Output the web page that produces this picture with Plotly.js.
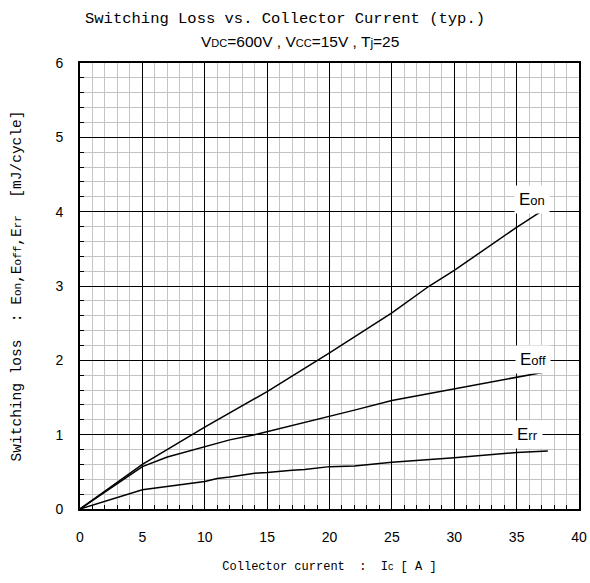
<!DOCTYPE html>
<html>
<head>
<meta charset="utf-8">
<script src="https://cdn.plot.ly/plotly-3.0.1.min.js"></script>
<style>html,body{margin:0;padding:0;background:#fff;}#chart{width:590px;height:583px;}</style>
</head>
<body>
<div id="chart"></div>
<script>
// Data
const eonCurrent = [0, 5, 10, 15, 20, 25, 28, 30, 35, 37.5];
const eonLoss    = [0, 0.6, 1.1, 1.58, 2.1, 2.64, 3.0, 3.21, 3.79, 4.06];

const eoffCurrent = [0, 5, 7, 10, 11, 12, 14, 16, 18, 20, 22, 25, 30, 35, 37.5];
const eoffLoss    = [0, 0.57, 0.7, 0.84, 0.89, 0.93, 1.0, 1.08, 1.16, 1.245, 1.33, 1.46, 1.62, 1.78, 1.85];

const errCurrent = [0, 5, 10, 11, 12, 13, 14, 15, 16, 17, 18, 20, 22, 25, 30, 35, 37.5];
const errLoss    = [0, 0.26, 0.37, 0.41, 0.43, 0.46, 0.48, 0.49, 0.51, 0.52, 0.53, 0.57, 0.58, 0.63, 0.69, 0.76, 0.78];

const seriesLabels = ['E<span style="font-size:13px">on</span>', 'E<span style="font-size:13px">off</span>', 'E<span style="font-size:13px">rr</span>'];
const labelPos = [[36.2, 4.17], [36.3, 2.01], [35.9, 1.0]];

const lineStyle = {color: '#000', width: 1.5};
const traces = [
  {x: eonCurrent, y: eonLoss, mode: 'lines', line: lineStyle, name: 'Eon'},
  {x: eoffCurrent, y: eoffLoss, mode: 'lines', line: lineStyle, name: 'Eoff'},
  {x: errCurrent, y: errLoss, mode: 'lines', line: lineStyle, name: 'Err'}
];

const annotations = seriesLabels.map((t, i) => ({
  x: labelPos[i][0], y: labelPos[i][1], xref: 'x', yref: 'y',
  text: t, showarrow: false, bgcolor: '#fff', borderpad: 4,
  font: {family: 'Liberation Sans, Arial, sans-serif', size: 17, color: '#000'}
}));
annotations.push({
  xref: 'paper', yref: 'paper', x: (300 - 80) / 499, y: (509 - 42) / 446,
  xanchor: 'center', yanchor: 'middle', showarrow: false,
  text: "V<span style='font-size:11px'>DC</span>=600V , V<span style='font-size:11px'>CC</span>=15V , T<span style='font-size:12px'>j</span>=25",
  font: {family: 'Liberation Sans, Arial, sans-serif', size: 15.5, color: '#000'}
});

const layout = {
  width: 590, height: 583,
  margin: {l: 80, r: 11, t: 63, b: 74},
  paper_bgcolor: '#fff', plot_bgcolor: '#fff',
  showlegend: false,
  title: {
    text: 'Switching Loss vs. Collector Current (typ.)',
    x: 285 / 590, xref: 'container', xanchor: 'center',
    y: 1 - 18 / 583, yref: 'container', yanchor: 'middle',
    font: {family: 'Liberation Mono, DejaVu Sans Mono, monospace', size: 15.5, color: '#000'}
  },
  xaxis: {
    range: [0, 40], dtick: 5, tick0: 0,
    showline: true, linecolor: '#000', linewidth: 2, mirror: true,
    ticks: 'inside', ticklen: 4, tickcolor: '#000',
    showgrid: true, gridcolor: '#000', gridwidth: 1, zeroline: false,
    ticklabelstandoff: 14,
    tickfont: {family: 'Liberation Sans, Arial, sans-serif', size: 14, color: '#000'},
    minor: {dtick: 1, ticks: 'inside', ticklen: 4, tickcolor: '#000', showgrid: true, gridcolor: '#c4c4c4', gridwidth: 1},
    title: {text: 'Collector current  :  I<span style="font-size:9px">C</span> [ A ]', standoff: 18,
      font: {family: 'Liberation Mono, DejaVu Sans Mono, monospace', size: 12, color: '#000'}}
  },
  yaxis: {
    range: [0, 6], dtick: 1, tick0: 0,
    showline: true, linecolor: '#000', linewidth: 2, mirror: true,
    ticks: 'inside', ticklen: 4, tickcolor: '#000',
    showgrid: true, gridcolor: '#000', gridwidth: 1, zeroline: false,
    ticklabelstandoff: 12,
    tickfont: {family: 'Liberation Sans, Arial, sans-serif', size: 14, color: '#000'},
    minor: {dtick: 0.2, ticks: 'inside', ticklen: 4, tickcolor: '#000', showgrid: true, gridcolor: '#c4c4c4', gridwidth: 1},
    title: {text: 'Switching loss  : E<span style="font-size:11px">on</span>,E<span style="font-size:11px">off</span>,E<span style="font-size:11px">rr</span>  [mJ/cycle]', standoff: 30,
      font: {family: 'Liberation Mono, DejaVu Sans Mono, monospace', size: 14.5, color: '#000'}}
  },
  annotations: annotations
};

Plotly.newPlot('chart', traces, layout, {displayModeBar: false, staticPlot: true});
</script>
</body>
</html>
